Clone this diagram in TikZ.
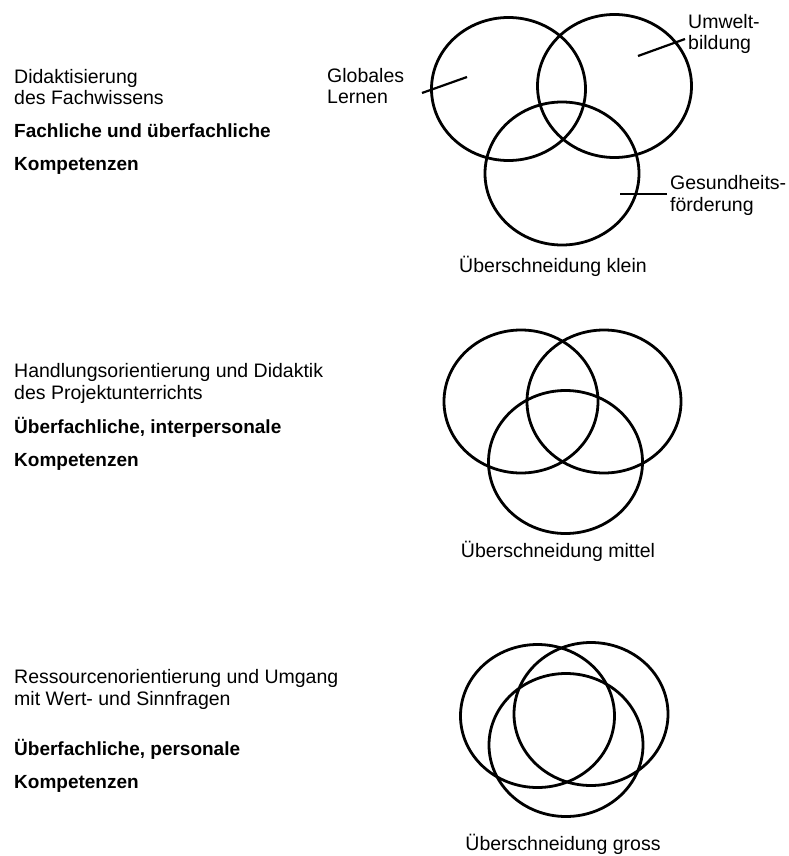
\documentclass[tikz,border=0pt]{standalone}
\usepackage{fontspec}
\setmainfont{Liberation Sans}
\usetikzlibrary{positioning}
\tikzset{ring/.style={line width=2.8pt}, pointer/.style={line width=2.2pt},
  txt/.style={inner sep=0pt, align=left, anchor=base west, font=\fontsize{19.5}{21.5}\selectfont},
  boldtxt/.style={txt, font=\fontsize{19}{33}\selectfont\bfseries},
  caption/.style={inner sep=0pt, anchor=base, font=\fontsize{19.5}{21.5}\selectfont}}

\begin{document}
\begin{tikzpicture}[x=1pt, y=-1pt]
        \useasboundingbox (0,0) rectangle (789,856);
        % left column: texts of the three rows (anchored at last line)
        \node (didak) at (14,105) [txt] {Didaktisierung\\des Fachwissens};
        \node (komp1) at (14,170) [boldtxt] {Fachliche und überfachliche\\Kompetenzen};
        \node (handl) at (14,399) [txt] {Handlungsorientierung und Didaktik\\des Projektunterrichts};
        \node (komp2) at (14,466) [boldtxt] {Überfachliche, interpersonale\\Kompetenzen};
        \node (ress) at (14,705) [txt] {Ressourcenorientierung und Umgang\\mit Wert- und Sinnfragen};
        \node (komp3) at (14,788) [boldtxt] {Überfachliche, personale\\Kompetenzen};

        % first row: small overlap
        \coordinate (a1) at (508.5,89);
        \coordinate (b1) at (614.5,86);
        \coordinate (c1) at (562,173.5);
        \draw[ring] (a1) ellipse [x radius=77pt, y radius=71.5pt];
        \draw[ring] (b1) ellipse [x radius=77pt, y radius=71.5pt];
        \draw[ring] (c1) ellipse [x radius=77pt, y radius=71.5pt];
        \node (glob) at (327,104) [txt] {Globales\\Lernen};
        \node (umwelt) at (688,50) [txt] {Umwelt-\\bildung};
        \node (gesund) at (670,211) [txt] {Gesundheits-\\förderung};
        \coordinate (glob1) at (422,93);
        \coordinate (glob2) at (467,77);
        \coordinate (umw1) at (685,39);
        \coordinate (umw2) at (638,56);
        \coordinate (ges1) at (667,194);
        \coordinate (ges2) at (620,194);
        \draw[pointer] (glob1) -- (glob2);
        \draw[pointer] (umw1) -- (umw2);
        \draw[pointer] (ges1) -- (ges2);
        \node (klein) at (553,272) [caption] {Überschneidung klein};

        % second row: medium overlap
        \coordinate (a2) at (521,401.5);
        \coordinate (b2) at (604,401.5);
        \coordinate (c2) at (565.5,462);
        \draw[ring] (a2) ellipse [x radius=77pt, y radius=71.5pt];
        \draw[ring] (b2) ellipse [x radius=77pt, y radius=71.5pt];
        \draw[ring] (c2) ellipse [x radius=77pt, y radius=71.5pt];
        \node (mittel) at (558,557) [caption] {Überschneidung mittel};

        % third row: large overlap
        \coordinate (a3) at (537.5,716);
        \coordinate (b3) at (591,714);
        \coordinate (c3) at (566,745);
        \draw[ring] (a3) ellipse [x radius=77pt, y radius=71.5pt];
        \draw[ring] (b3) ellipse [x radius=77pt, y radius=71.5pt];
        \draw[ring] (c3) ellipse [x radius=77pt, y radius=71.5pt];
        \node (gross) at (563,850) [caption] {Überschneidung gross};
\end{tikzpicture}
\end{document}
